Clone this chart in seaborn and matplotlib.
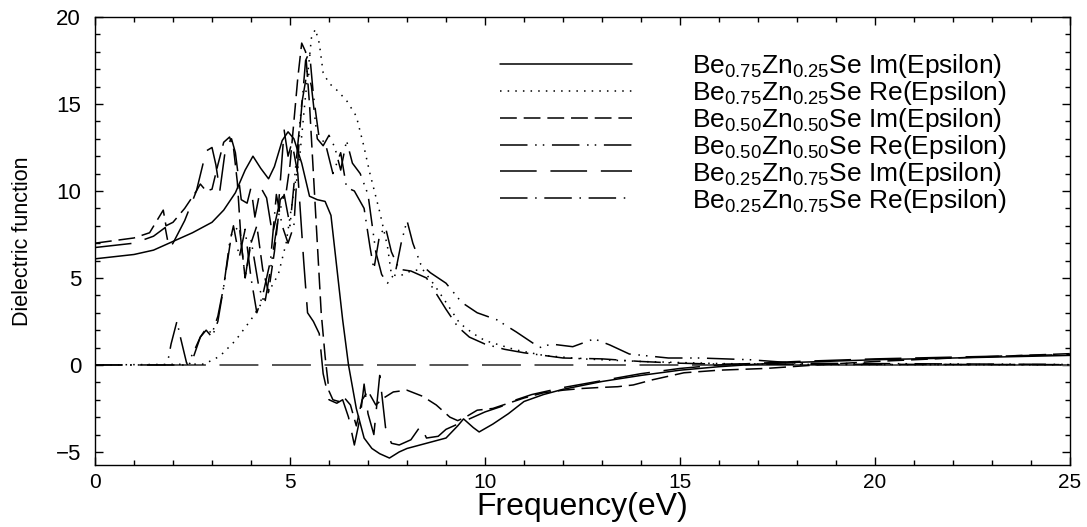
import numpy as np
import pandas as pd
import matplotlib
matplotlib.use("Agg")
import matplotlib.pyplot as plt
import seaborn as sns
from matplotlib.ticker import MultipleLocator

# ---------------- data ----------------
labels = [
    r"Be$_{0.75}$Zn$_{0.25}$Se Im(Epsilon)",
    r"Be$_{0.75}$Zn$_{0.25}$Se Re(Epsilon)",
    r"Be$_{0.50}$Zn$_{0.50}$Se Im(Epsilon)",
    r"Be$_{0.50}$Zn$_{0.50}$Se Re(Epsilon)",
    r"Be$_{0.25}$Zn$_{0.75}$Se Im(Epsilon)",
    r"Be$_{0.25}$Zn$_{0.75}$Se Re(Epsilon)",
]

# solid
x1 = [0, 1, 1.5, 2, 2.5, 3, 3.3, 3.6, 3.85, 4.05, 4.25, 4.45, 4.6, 4.8, 4.95, 5.1, 5.3,
      5.5, 5.7, 5.9, 6.05, 6.2, 6.35, 6.5, 6.7, 6.9, 7.1, 7.3, 7.55, 7.8, 8.0, 8.5, 9.0,
      9.3, 9.45, 9.7, 9.85, 10.2, 10.6, 11.0, 11.5, 12, 13, 14, 15, 16, 17, 18, 20, 22, 25]
y1 = [6.1, 6.35, 6.6, 7.1, 7.6, 8.2, 8.9, 9.9, 11.2, 12.0, 11.3, 10.7, 11.4, 12.9, 13.4,
      13.0, 11.6, 9.7, 9.5, 9.4, 8.6, 5.6, 2.6, 0.0, -2.5, -4.2, -4.8, -5.1, -5.35, -5.0,
      -4.8, -4.5, -4.2, -3.5, -3.1, -3.6, -3.85, -3.4, -2.8, -2.1, -1.7, -1.4, -0.95, -0.6,
      -0.3, -0.1, 0.05, 0.15, 0.3, 0.4, 0.55]

# dotted
x2 = [0, 2.8, 3.2, 3.6, 4.0, 4.4, 4.7, 4.9, 5.1, 5.25, 5.4, 5.55, 5.65, 5.75, 5.85, 6.0,
      6.2, 6.45, 6.7, 6.88, 7.05, 7.3, 7.5, 7.6, 7.8, 8.1, 8.4, 8.7, 9.0, 9.35, 9.7, 10.0,
      10.8, 11.5, 12.5, 14, 16, 18, 25]
y2 = [0, 0.05, 0.5, 1.4, 2.6, 4.0, 5.2, 7.0, 10.0, 12.0, 15.5, 18.8, 19.3, 18.5, 16.8,
      16.2, 15.8, 15.2, 14.3, 12.7, 11.0, 8.8, 6.8, 5.2, 5.1, 5.4, 5.5, 4.6, 3.6, 2.4, 1.8,
      1.4, 0.86, 0.55, 0.35, 0.2, 0.08, 0.03, 0.01]

# dashed
x3 = [0, 1.0, 1.4, 1.75, 1.82, 2.0, 2.3, 2.6, 2.7, 2.85, 3.0, 3.15, 3.3, 3.45, 3.55, 3.65,
      3.75, 3.85, 4.0, 4.15, 4.3, 4.45, 4.6, 4.75, 4.9, 5.0, 5.1, 5.2, 5.3, 5.4, 5.5, 5.6,
      5.7, 5.8, 5.9, 6.0, 6.1, 6.25, 6.4, 6.55, 6.7, 6.85, 7.0, 7.2, 7.4, 7.65, 8.0, 8.4,
      8.75, 9.1, 9.3, 9.5, 9.8, 10.2, 10.6, 11.0, 11.5, 12.0, 12.5, 12.9, 13.4, 13.8, 14.3,
      15.1, 16, 17.2, 18.5, 20, 22, 25]
y3 = [7.0, 7.3, 7.6, 8.9, 8.0, 8.2, 9.0, 10.0, 10.4, 10.0, 10.1, 11.5, 12.8, 13.1, 12.5,
      10.5, 7.0, 5.0, 7.0, 8.0, 5.5, 4.2, 6.5, 9.5, 9.9, 11.5, 14.0, 16.5, 18.5, 18.0, 15.0,
      11.0, 7.0, 3.0, 0.5, -1.5, -2.0, -2.1, -1.9, -2.3, -3.5, -2.0, -1.5, -2.3, -1.9, -1.55,
      -1.45, -1.8, -2.3, -3.0, -3.2, -3.0, -2.6, -2.5, -2.2, -1.9, -1.6, -1.45, -1.35, -1.3,
      -1.25, -1.15, -0.85, -0.45, -0.3, -0.2, 0.0, 0.2, 0.4, 0.65]

# dash-dot-dot
x4 = [0, 2.4, 2.5, 2.7, 2.85, 3.0, 3.15, 3.3, 3.5, 3.7, 3.85, 4.0, 4.2, 4.35, 4.5, 4.7,
      4.85, 5.0, 5.15, 5.3, 5.45, 5.55, 5.7, 5.85, 6.0, 6.15, 6.3, 6.45, 6.6, 6.8, 7.0,
      7.2, 7.35, 7.5, 7.7, 7.85, 8.0, 8.15, 8.35, 8.6, 9.0, 9.4, 9.8, 10.3, 10.8, 11.4,
      11.7, 12.25, 12.8, 13.2, 13.7, 14.7, 15.5, 16.8, 18, 25]
y4 = [0, 0, 0.3, 1.6, 2.1, 1.8, 2.8, 4.5, 7.5, 8.0, 5.0, 7.2, 4.5, 3.5, 5.5, 8.5, 9.8,
      8.0, 11.5, 15.0, 17.0, 16.0, 13.0, 12.6, 13.2, 12.5, 11.2, 12.9, 11.6, 11.0, 9.8,
      6.5, 5.2, 4.7, 5.3, 7.0, 8.3, 7.0, 5.8, 5.3, 4.7, 3.6, 3.0, 2.6, 1.9, 1.0, 1.2, 1.05,
      1.5, 1.15, 0.63, 0.4, 0.4, 0.3, 0.1, 0.03]

# long dash
x5 = [0, 1.0, 1.5, 1.8, 1.9, 2.0, 2.3, 2.6, 2.85, 3.0, 3.1, 3.2, 3.35, 3.5, 3.6, 3.75,
      3.9, 4.0, 4.1, 4.25, 4.4, 4.55, 4.7, 4.85, 4.95, 5.05, 5.2, 5.35, 5.45, 5.6, 5.75,
      5.85, 6.0, 6.2, 6.35, 6.5, 6.65, 6.8, 6.9, 7.0, 7.15, 7.3, 7.45, 7.6, 7.8, 8.1, 8.35,
      8.5, 8.8, 9.0, 9.3, 9.6, 10.0, 10.4, 10.8, 11.2, 11.6, 12.0, 13, 14, 15, 16, 17, 18,
      20, 22, 25]
y5 = [6.75, 7.0, 7.4, 7.9, 6.7, 7.0, 8.3, 10.0, 12.3, 12.5, 11.5, 10.0, 12.5, 13.0, 12.2,
      9.5, 9.3, 10.2, 8.5, 10.2, 9.6, 7.5, 9.0, 13.5, 12.0, 12.8, 11.0, 6.0, 3.0, 2.5, 1.8,
      -0.5, -2.0, -2.2, -2.0, -3.0, -4.6, -3.0, -1.1, -2.8, -4.0, -0.6, -3.6, -4.5, -4.6,
      -4.3, -3.5, -4.2, -4.1, -3.7, -3.4, -3.1, -2.7, -2.4, -2.0, -1.7, -1.5, -1.3, -0.9,
      -0.5, -0.2, 0.0, 0.1, 0.2, 0.35, 0.45, 0.6]

# dash-dot
x6 = [0, 1.85, 1.95, 2.1, 2.2, 2.35, 2.5, 2.7, 2.85, 3.0, 3.15, 3.3, 3.45, 3.55, 3.7,
      3.85, 4.0, 4.15, 4.3, 4.5, 4.65, 4.8, 4.95, 5.1, 5.25, 5.4, 5.5, 5.6, 5.75, 5.9, 6.1,
      6.3, 6.45, 6.65, 6.9, 7.05, 7.15, 7.3, 7.45, 7.6, 7.8, 8.1, 8.5, 9.0, 9.3, 9.6, 10,
      10.5, 11, 11.5, 12, 13, 14, 15, 16, 25]
y6 = [0, 0, 1.2, 2.5, 1.5, 0.1, 0.6, 1.6, 2.0, 1.6, 2.5, 4.5, 7.0, 8.0, 6.2, 7.8, 5.0,
      3.0, 4.0, 6.0, 9.8, 8.0, 7.0, 8.0, 13.5, 17.5, 18.0, 15.5, 13.0, 12.8, 11.0, 12.2,
      10.2, 10.0, 9.0, 6.8, 5.5, 7.5, 7.9, 6.5, 5.5, 5.4, 5.0, 3.2, 2.2, 1.6, 1.2, 0.9,
      0.7, 0.55, 0.4, 0.35, 0.2, 0.1, 0.05, 0.02]

xs = [x1, x2, x3, x4, x5, x6]
ys = [y1, y2, y3, y4, y5, y6]

# ---------------- styling ----------------
styles = [
    "-",
    (0, (1, 4)),
    (0, (11, 4.5)),
    (0, (18, 5, 1, 4, 1, 5)),
    (0, (24, 9)),
    (0, (18, 5, 1, 5)),
]

sns.set_theme(style="ticks")
plt.rcParams["font.family"] = ["Liberation Sans", "DejaVu Sans"]
plt.rcParams["mathtext.default"] = "regular"
for k in ["text.color", "axes.labelcolor", "xtick.color", "ytick.color", "axes.edgecolor"]:
    plt.rcParams[k] = "black"

fig = plt.figure(figsize=(10.87, 5.27), dpi=100)
ax = fig.add_axes([95 / 1087, 1 - 465 / 527, (1070 - 95) / 1087, (465 - 17) / 527])

# zero reference line
ax.hlines(0, 1.85, 17, color="#555555", lw=1.4, linestyle=(0, (20, 7)), zorder=1)
ax.hlines(0, 17, 25, color="#555555", lw=1.4, zorder=1)

for xv, yv, lab, ls in zip(xs, ys, labels, styles):
    df = pd.DataFrame({"x": xv, "y": yv})
    sns.lineplot(data=df, x="x", y="y", ax=ax, color="black", lw=1.1,
                 linestyle=ls, label=lab, sort=False, estimator=None, zorder=3)

ax.set_xlim(0, 25)
ax.set_ylim(-5.75, 20)
ax.xaxis.set_major_locator(MultipleLocator(5))
ax.xaxis.set_minor_locator(MultipleLocator(1))
ax.yaxis.set_major_locator(MultipleLocator(5))
ax.yaxis.set_minor_locator(MultipleLocator(1))
ax.tick_params(which="both", direction="in", top=True, right=True, width=1.0,
               colors="black")
ax.tick_params(which="major", length=6)
ax.tick_params(which="minor", length=3.5)
ax.tick_params(axis="x", labelsize=15, pad=6)
ax.tick_params(axis="y", labelsize=16, pad=10)
for sp in ax.spines.values():
    sp.set_linewidth(1.0)
    sp.set_color("black")

ax.set_xlabel("Frequency(eV)", fontsize=23)
ax.set_ylabel("Dielectric function", fontsize=15.5)
ax.xaxis.set_label_coords(0.5, -0.06)
ax.yaxis.set_label_coords(-0.064, 0.5)
ax.xaxis.label.set_va("top")

leg = ax.legend(loc="upper left", bbox_to_anchor=(0.415, 0.922), frameon=False,
                fontsize=19, handlelength=5.0, handletextpad=2.3, labelspacing=-0.04,
                borderpad=0, borderaxespad=0)

fig.savefig("out.png", dpi=100)
